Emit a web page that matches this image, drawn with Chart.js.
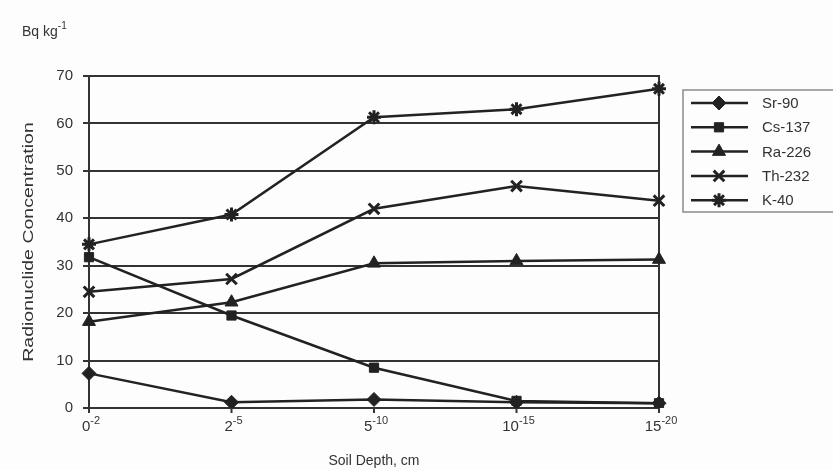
<!DOCTYPE html>
<html>
<head>
<meta charset="utf-8">
<script src="https://cdn.jsdelivr.net/npm/chart.js@4.4.0/dist/chart.umd.min.js"></script>
<style>
  html, body { margin: 0; padding: 0; background: #fdfdfd; }
  #wrap { width: 833px; height: 470px; position: relative; }
</style>
</head>
<body>
<div id="wrap"><canvas id="c" width="833" height="470"></canvas></div>
<script>
// soil depth ranges, cm (from / to)
const depthFrom = ['0', '2', '5', '10', '15'];
const depthTo = ['-2', '-5', '-10', '-15', '-20'];
const depths = depthFrom.map((f, i) => f + depthTo[i]);
const yTicks = [0, 10, 20, 30, 40, 50, 60, 70];

const sr90 = [7.3, 1.2, 1.8, 1.2, 1.0];
const cs137 = [31.8, 19.5, 8.5, 1.5, 1.0];
const ra226 = [18.2, 22.3, 30.5, 31.0, 31.3];
const th232 = [24.5, 27.2, 42.0, 46.8, 43.7];
const k40 = [34.5, 40.8, 61.3, 63.0, 67.3];

const names = ['Sr-90', 'Cs-137', 'Ra-226', 'Th-232', 'K-40'];
const styles = ['rectRot', 'rect', 'triangle', 'crossRot', 'star'];
const sizes = [7, 6.5, 7.5, 7.5, 7];
const ink = '#222';
const font = '"Liberation Sans", Arial, sans-serif';

const series = [sr90, cs137, ra226, th232, k40];

const datasets = series.map((d, i) => ({
  label: names[i],
  data: d,
  borderColor: ink,
  backgroundColor: ink,
  borderWidth: 2.5,
  pointStyle: styles[i],
  pointRadius: sizes[i],
  pointBorderWidth: i > 2 ? 3 : 1,
  pointBackgroundColor: ink,
  pointBorderColor: ink,
  tension: 0
}));

// x tick labels with superscripts, y title, unit label and legend box
const extras = {
  id: 'extras',
  afterDraw(chart) {
    const ctx = chart.ctx;
    const xs = chart.scales.x;
    const area = chart.chartArea;
    const bottom = area.bottom;
    ctx.save();
    ctx.fillStyle = '#333';
    ctx.textBaseline = 'middle';
    ctx.textAlign = 'left';

    // depth labels
    depthFrom.forEach((f, i) => {
      const x = xs.getPixelForValue(i);
      ctx.font = '15px ' + font;
      const w1 = ctx.measureText(f).width;
      ctx.font = '11px ' + font;
      const w2 = ctx.measureText(depthTo[i]).width;
      const x0 = x - (w1 + w2) / 2 + 2;
      ctx.font = '15px ' + font;
      ctx.fillText(f, x0, bottom + 19);
      ctx.font = '11px ' + font;
      ctx.fillText(depthTo[i], x0 + w1, bottom + 13);
      // small tick under the axis
      ctx.strokeStyle = '#333';
      ctx.lineWidth = 2;
      ctx.beginPath();
      ctx.moveTo(x, bottom);
      ctx.lineTo(x, bottom + 5);
      ctx.stroke();
    });

    // y axis title (stretched along its length like the original)
    ctx.save();
    ctx.translate(29, (area.top + area.bottom) / 2);
    ctx.rotate(-Math.PI / 2);
    ctx.scale(1.3, 1);
    ctx.textAlign = 'center';
    ctx.font = '15px ' + font;
    ctx.fillText('Radionuclide Concentration', 0, 0);
    ctx.restore();

    // unit label
    ctx.font = '14px ' + font;
    ctx.fillText('Bq kg', 22, 32);
    const w = ctx.measureText('Bq kg').width;
    ctx.font = '10px ' + font;
    ctx.fillText('-1', 22 + w, 26);

    // legend
    const bx = 683, by = 90, bw = 160, bh = 122;
    ctx.strokeStyle = '#8a8a8a';
    ctx.lineWidth = 1.5;
    ctx.strokeRect(bx, by, bw, bh);
    ctx.font = '15px ' + font;
    names.forEach((n, i) => {
      const y = 103 + i * 24.3;
      ctx.strokeStyle = ink;
      ctx.lineWidth = 2.5;
      ctx.beginPath();
      ctx.moveTo(691, y);
      ctx.lineTo(748, y);
      ctx.stroke();
      ctx.fillStyle = ink;
      ctx.lineWidth = i > 2 ? 3 : 1;
      Chart.helpers.drawPoint(ctx, {pointStyle: styles[i], radius: sizes[i], borderWidth: i > 2 ? 3 : 1}, 719, y);
      ctx.fillStyle = '#333';
      ctx.fillText(n, 762, y + 1);
    });
    ctx.restore();
  }
};

new Chart(document.getElementById('c'), {
  type: 'line',
  data: { labels: depths, datasets: datasets },
  options: {
    responsive: false,
    animation: false,
    layout: { padding: { left: 0, top: 76, right: 174, bottom: 0 } },
    plugins: { legend: { display: false }, tooltip: { enabled: false } },
    scales: {
      x: {
        offset: false,
        grid: { display: false },
        border: { display: true, color: '#333', width: 2 },
        ticks: { display: false },
        title: { display: true, text: 'Soil Depth, cm', color: '#333', padding: { top: 0, bottom: 0 }, font: { family: font, size: 14 } },
        afterFit(s) { s.height = 62; }
      },
      y: {
        min: 0, max: 70,
        afterBuildTicks(s) { s.ticks = yTicks.map(v => ({ value: v })); },
        grid: { color: '#333', lineWidth: 2, drawTicks: true, tickLength: 6 },
        border: { display: true, color: '#333', width: 2 },
        ticks: { color: '#333', padding: 10, font: { family: font, size: 15 } },
        title: { display: false },
        afterFit(s) { s.width = 89; }
      },
      y2: {
        position: 'right',
        min: 0, max: 70,
        grid: { display: false },
        ticks: { display: false },
        border: { display: true, color: '#333', width: 2 },
        afterFit(s) { s.width = 0; }
      }
    }
  },
  plugins: [extras]
});
</script>
</body>
</html>
